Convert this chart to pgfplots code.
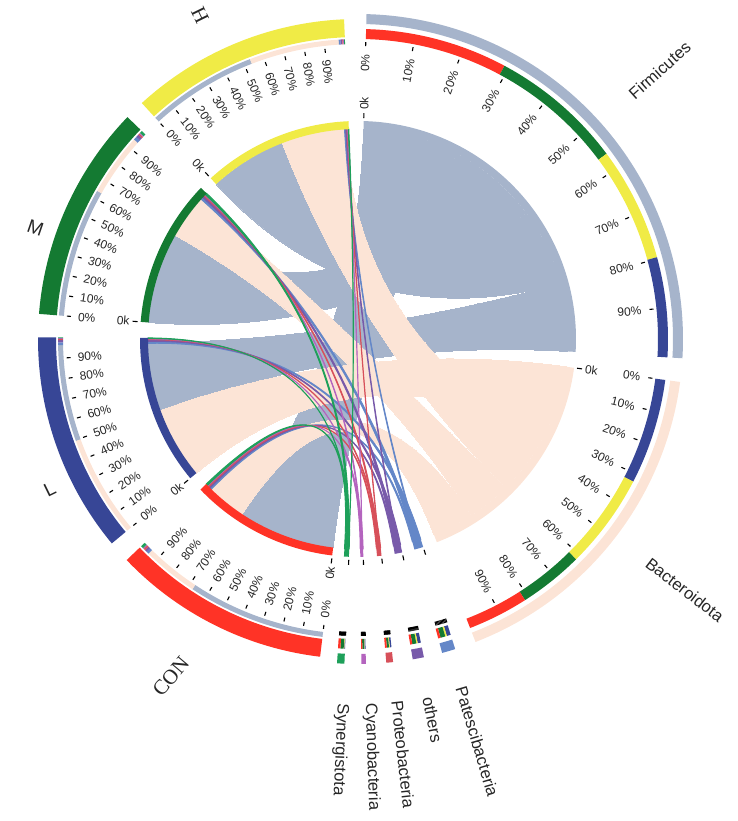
\documentclass[border=0pt]{standalone}
\usepackage{pgfplots}
\pgfplotsset{compat=1.18}
\usepackage{pgfplotstable}
\usepackage{fontspec}
\setmainfont{Liberation Sans}
\newfontfamily\namefont{Liberation Serif}

\definecolor{firm}{HTML}{A6B4CB}
\definecolor{bact}{HTML}{FCE4D6}
\definecolor{pate}{HTML}{6487C8}
\definecolor{othr}{HTML}{785AAA}
\definecolor{prot}{HTML}{D7505A}
\definecolor{cyno}{HTML}{B464BE}
\definecolor{syne}{HTML}{1EA05A}
\definecolor{conc}{HTML}{FF3326}
\definecolor{lc}{HTML}{374696}
\definecolor{mc}{HTML}{147A32}
\definecolor{hc}{HTML}{F0EB46}

\tikzset{
  tk/.style={draw=black, line width=1.1pt},
  pct/.style={inner sep=0pt, text=black!85, font=\fontsize{12}{13}\selectfont},
  nm0/.style={inner sep=0pt, text=black!85, font=\fontsize{16.6}{18}\selectfont},
  nm1/.style={inner sep=0pt, text=black!85, font=\namefont\fontsize{21}{22}\selectfont},
  nm2/.style={inner sep=0pt, text=black!85, font=\fontsize{19}{20}\selectfont},
}

% sectors, clockwise: start and end angle (deg), colour, 0 = phylum / 1 = sample, labels
\pgfplotstableread{
start end col kind lab
88.5 -3.4 firm 0 1
-7.6 -68.8 bact 0 1
-72.6 -75.0 pate 0 0
-78.3 -80.3 othr 0 0
-83.8 -85.0 prot 0 0
-88.6 -89.4 cyno 0 0
-92.4 -93.7 syne 0 0
-96.8 -136.3 conc 1 1
-140.3 -180.3 lc 1 1
175.5 136.1 mc 1 1
132.5 92.5 hc 1 1
}\sectors

% links: sample arc s1->s2, phylum arc p1->p2, phylum colour, sample colour, outline
\pgfplotstableread{
s1 s2 p1 p2 pcol scol lw
-96.8 -123.5 88.5 61.8 firm conc 0
175.5 150.4 61.8 36.7 firm mc 0
132.5 111.1 36.7 15.3 firm hc 0
-160.1 -178.8 15.3 -3.4 firm lc 0
-140.3 -160.1 -7.6 -27.4 bact lc 0
111.1 93.7 -27.4 -45.3 bact hc 0
150.4 138.3 -45.3 -57.4 bact mc 0
-123.5 -134.3 -57.4 -68.8 bact conc 0
-178.8 -179.35 -72.6 -73.35 pate lc 0.9
93.7 93.36 -73.35 -73.65 pate hc 0.9
138.3 137.65 -73.65 -74.55 pate mc 0.9
-134.3 -134.8 -74.55 -75.0 pate conc 0.9
-179.35 -179.8 -78.3 -78.9 othr lc 0.9
93.36 93.02 -78.9 -79.15 othr hc 0.9
137.65 137.1 -79.15 -79.9 othr mc 0.9
-134.8 -135.23 -79.9 -80.3 othr conc 0.9
-179.8 -180.0 -83.8 -84.1 prot lc 0.9
93.02 92.85 -84.1 -84.25 prot hc 0.9
137.1 136.8 -84.25 -84.65 prot mc 0.9
-135.23 -135.59 -84.65 -85.0 prot conc 0.9
-180.0 -180.15 -88.6 -88.8 cyno lc 0.9
92.85 92.68 -88.8 -88.9 cyno hc 0.9
136.8 136.6 -88.9 -89.2 cyno mc 0.9
-135.59 -135.8 -89.2 -89.4 cyno conc 0.9
-180.15 -180.3 -92.4 -92.55 syne lc 0.9
92.68 92.51 -92.55 -92.65 syne hc 0.9
136.6 136.1 -92.65 -93.25 syne mc 0.9
-135.8 -136.3 -93.25 -93.7 syne conc 0.9
}\links

% sector names: text, angle, radius, rotation, style
\pgfplotstableread{
txt th rr rot st
Firmicutes 41.7 404 41.7 0
Bacteroidota -37.5 412 -37.5 0
Patescibacteria -73.5 420 -73.5 0
others -78.9 388 -78.9 0
Proteobacteria -83.8 418 -83.8 0
Cyanobacteria -88.1 418 -88.1 0
Synergistota -92.5 411 -92.5 0
CON -119 386 50 1
L -154 343 26 2
M 161 341 -19 2
H 116 360 -64 1
}\names

% centre of the circle (1 axis unit = 1pt)
\def\cx{358}
\def\cy{482}

\newcommand\band[5]{%
  \edef\tmp{\noexpand\fill[#5] (axis cs:{\cx+#3*cos(#1)},{\cy+#3*sin(#1)})
    arc[start angle=#1, end angle=#2, radius=#3pt]
    -- (axis cs:{\cx+#4*cos(#2)},{\cy+#4*sin(#2)})
    arc[start angle=#2, end angle=#1, radius=#4pt] -- cycle;}\tmp}

\newcommand\chord[5]{%
  \edef\tmp{\noexpand\fill[#5] (axis cs:{\cx+210*cos(#1)},{\cy+210*sin(#1)})
    arc[start angle=#1, end angle=#2, radius=210pt]
    .. controls (axis cs:{\cx+70*cos(#2)},{\cy+70*sin(#2)}) and (axis cs:{\cx+70*cos(#3)},{\cy+70*sin(#3)})
    .. (axis cs:{\cx+210*cos(#3)},{\cy+210*sin(#3)})
    arc[start angle=#3, end angle=#4, radius=210pt]
    .. controls (axis cs:{\cx+70*cos(#4)},{\cy+70*sin(#4)}) and (axis cs:{\cx+70*cos(#1)},{\cy+70*sin(#1)})
    .. cycle;}\tmp}

\newcommand\tickmark[3]{%
  \edef\tmp{\noexpand\draw[tk] (axis cs:{\cx+#2*cos(#1)},{\cy+#2*sin(#1)})
    -- (axis cs:{\cx+#3*cos(#1)},{\cy+#3*sin(#1)});}\tmp}

\newcommand\lab[6]{%
  \edef\tmp{\noexpand\node[#5, anchor=#4, rotate=#3]
    at (axis cs:{\cx+#2*cos(#1)},{\cy+#2*sin(#1)}) {#6};}\tmp}

\begin{document}
\begin{tikzpicture}
\begin{axis}[
  width=737pt, height=821pt, scale only axis,
  xmin=0, xmax=737, ymin=0, ymax=821,
  hide axis, clip=false,
]
\path (axis cs:0,0) rectangle (axis cs:737,821);

% ribbons, with the composition tracks they define
\pgfplotstablegetrowsof{\links}
\pgfmathtruncatemacro\nl{\pgfplotsretval-1}
\foreach \ii in {0,...,\nl}{
  \pgfplotstablegetelem{\ii}{s1}\of\links \let\sA\pgfplotsretval
  \pgfplotstablegetelem{\ii}{s2}\of\links \let\sB\pgfplotsretval
  \pgfplotstablegetelem{\ii}{p1}\of\links \let\pA\pgfplotsretval
  \pgfplotstablegetelem{\ii}{p2}\of\links \let\pB\pgfplotsretval
  \pgfplotstablegetelem{\ii}{pcol}\of\links \let\lcol\pgfplotsretval
  \pgfplotstablegetelem{\ii}{scol}\of\links \let\scol\pgfplotsretval
  \pgfplotstablegetelem{\ii}{lw}\of\links \let\lw\pgfplotsretval
  \chord{\sA}{\sB}{\pA}{\pB}{fill=\lcol, draw=\lcol, line width=\lw pt}
  \band{\sA}{\sB}{295}{300}{\lcol}
  \band{\pA}{\pB}{300}{310}{\scol}
}

% sector tracks, ticks and percent labels
\pgfplotstablegetrowsof{\sectors}
\pgfmathtruncatemacro\ns{\pgfplotsretval-1}
\foreach \ii in {0,...,\ns}{
  \pgfplotstablegetelem{\ii}{start}\of\sectors \let\st\pgfplotsretval
  \pgfplotstablegetelem{\ii}{end}\of\sectors \let\en\pgfplotsretval
  \pgfplotstablegetelem{\ii}{col}\of\sectors \let\co\pgfplotsretval
  \pgfplotstablegetelem{\ii}{kind}\of\sectors \let\kd\pgfplotsretval
  \pgfplotstablegetelem{\ii}{lab}\of\sectors \let\lb\pgfplotsretval
  \band{\st}{\en}{210}{218}{\co}
  \tickmark{\st}{221}{226}
  \ifnum\kd=0
    \band{\st}{\en}{315}{325}{\co}
    \def\tka{293}\def\tkb{297}\def\tkl{285}
  \else
    \band{\st}{\en}{302}{320}{\co}
    \def\tka{288}\def\tkb{292}\def\tkl{281}
  \fi
  \foreach \k in {0,...,9}{
    \pgfmathsetmacro\ang{\st-(\st-\en)*\k/10}
    \tickmark{\ang}{\tka}{\tkb}
    \ifnum\lb=1
      \pgfmathtruncatemacro\pv{10*\k}
      \ifnum\kd=0
        \lab{\ang}{\tkl}{\ang}{east}{pct}{\pv\noexpand\%}
      \else
        \pgfmathsetmacro\rot{\ang+180}
        \lab{\ang}{\tkl}{\rot}{west}{pct}{\pv\noexpand\%}
      \fi
    \fi
  }
  \ifnum\lb=1
    \ifnum\kd=0
      \lab{\st}{229}{\st}{west}{pct}{0k}
    \else
      \pgfmathsetmacro\rot{\st+180}
      \lab{\st}{229}{\rot}{east}{pct}{0k}
    \fi
  \fi
}

% sector names
\pgfplotstablegetrowsof{\names}
\pgfmathtruncatemacro\nn{\pgfplotsretval-1}
\foreach \ii in {0,...,\nn}{
  \pgfplotstablegetelem{\ii}{txt}\of\names \let\ntx\pgfplotsretval
  \pgfplotstablegetelem{\ii}{th}\of\names \let\nth\pgfplotsretval
  \pgfplotstablegetelem{\ii}{rr}\of\names \let\nr\pgfplotsretval
  \pgfplotstablegetelem{\ii}{rot}\of\names \let\nrot\pgfplotsretval
  \pgfplotstablegetelem{\ii}{st}\of\names \let\nst\pgfplotsretval
  \lab{\nth}{\nr}{\nrot}{center}{nm\nst}{\ntx}
}
\end{axis}
\end{tikzpicture}
\end{document}
